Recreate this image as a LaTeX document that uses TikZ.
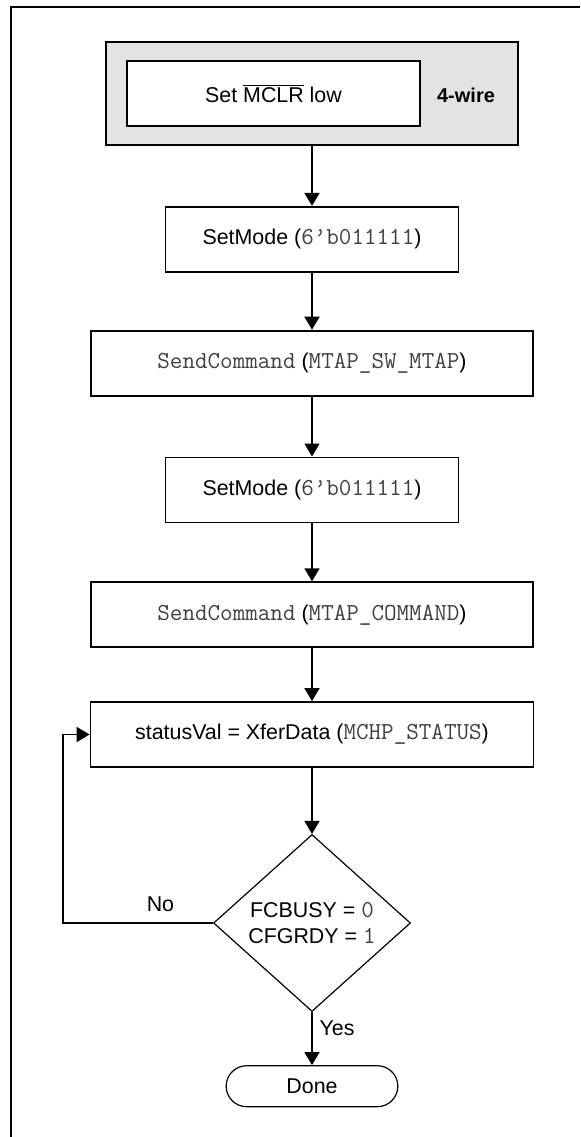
\documentclass[tikz,border=0pt]{standalone}
\usepackage{fontspec}
\setmainfont{Liberation Sans}
\setmonofont[Scale=1.14]{Latin Modern Mono}
\usepackage{tikz}
\usetikzlibrary{positioning,shapes.geometric,shapes.misc,arrows.meta}
\newcommand{\mtt}[1]{{\ttfamily\color{black!75}#1}}

\begin{document}
\begin{tikzpicture}[auto,x=0.5pt,y=-0.5pt,font=\fontsize{10.7}{12.8}\selectfont,
    box/.style={draw,line width=0.9pt,minimum height=32.5pt,inner sep=0pt},
    flow/.style={line width=0.9pt,-{Triangle[length=6.5pt,width=7.5pt]}}]
  \useasboundingbox (0,0) rectangle (580,1137);
  \draw[line width=1.1pt] (11,1137) |- (580,7);
  \draw node[draw,line width=0.9pt,fill=black!11,minimum width=206pt,minimum height=51.5pt] (wire) at (312,93.5) {};
  \draw node[box,fill=white,minimum width=146.5pt] (mclr) at (273.5,93.5) {Set $\overline{\mbox{MCLR}}$ low};
  \draw node[font=\bfseries] (wlbl) at (466,95) {4-wire};
  \draw node[box,minimum width=146.5pt,below=30pt of wire] (mode1) {SetMode (\mtt{6’b011111})};
  \draw node[box,minimum width=221pt,below=28.5pt of mode1] (cmd1) {\mtt{SendCommand} (\mtt{MTAP\_SW\_MTAP})};
  \draw node[box,minimum width=146.5pt,below=30pt of cmd1] (mode2) {SetMode (\mtt{6’b011111})};
  \draw node[box,minimum width=221pt,below=29pt of mode2] (cmd2) {\mtt{SendCommand} (\mtt{MTAP\_COMMAND})};
  \draw node[box,minimum width=221.5pt,below=26.5pt of cmd2] (status) {statusVal = XferData (\mtt{MCHP\_STATUS})};
  \draw node[diamond,draw,line width=0.6pt,minimum width=98.5pt,minimum height=88.5pt,inner sep=0pt,align=center,below=33pt of status] (chk) {FCBUSY = \mtt{0}\\CFGRDY = \mtt{1}};
  \draw node[rounded rectangle,draw,line width=0.6pt,minimum width=92.5pt,minimum height=20.5pt,below=26.5pt of chk] (done) {Done};
  \coordinate (loop) at (63,0);
  \draw[flow] (wire) -- (mode1);
  \draw[flow] (mode1) -- (cmd1);
  \draw[flow] (cmd1) -- (mode2);
  \draw[flow] (mode2) -- (cmd2);
  \draw[flow] (cmd2) -- (status);
  \draw[flow] (status) -- (chk);
  \draw[flow] (chk) -- node[right,pos=0.3] (yes) {Yes} (done);
  \draw[flow] (chk.west) -- node[above=2pt,pos=0.35] (no) {No} (chk.west -| loop) |- (status.west);
\end{tikzpicture}
\end{document}
